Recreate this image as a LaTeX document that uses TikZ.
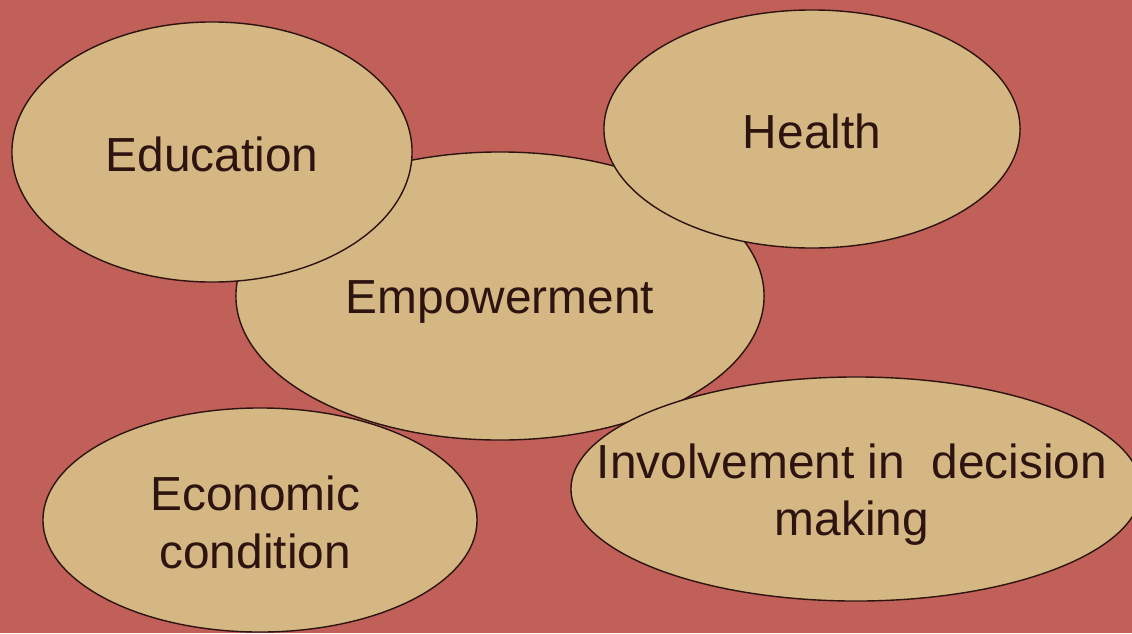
\documentclass[tikz,border=0pt]{standalone}
\usepackage{fontspec}
\setmainfont{Liberation Sans}
\usetikzlibrary{shapes.geometric,positioning}
\definecolor{backred}{RGB}{193,95,89}
\definecolor{bubblefill}{RGB}{212,183,130}
\definecolor{ink}{RGB}{46,20,16}
\tikzset{
    bubble/.style={
        draw=ink,
        fill=bubblefill,
        ellipse,
        inner sep=0pt,
        line width=1pt
    },
    word/.style={
        text=ink,
        align=center,
        font=\fontsize{34}{41}\selectfont
    }
}

\begin{document}
\begin{tikzpicture}[x=0.025cm,y=-0.025cm]
  \fill[backred] (0,0) rectangle (1132,633);
  \useasboundingbox (0,0) rectangle (1132,633);

  \node[bubble, minimum width=13.2cm, minimum height=7.2cm] (empow) at (500,296) {};
  \node[word] (empowtext) at ([yshift=-0.15cm]empow) {Empowerment};

  \node[bubble, minimum width=10cm, minimum height=6.5cm] (edu) at (212,152) {};
  \node[word] (edutext) at ([yshift=-0.07cm]edu) {Education};

  \node[bubble, minimum width=10.4cm, minimum height=5.95cm] (health) at (812,129) {};
  \node[word] (healthtext) at ([yshift=-0.06cm]health) {Health};

  \node[bubble, minimum width=14.25cm, minimum height=5.6cm] (decision) at (856,489) {};
  \node[word] (decisiontext) at ([xshift=-0.1cm,yshift=-0.14cm]decision) {Involvement in\ \ decision\\making};

  \node[bubble, minimum width=10.85cm, minimum height=5.6cm] (econ) at (260,520) {};
  \node[word] (econtext) at ([xshift=-0.12cm,yshift=-0.06cm]econ) {Economic\\condition};

\end{tikzpicture}
\end{document}
